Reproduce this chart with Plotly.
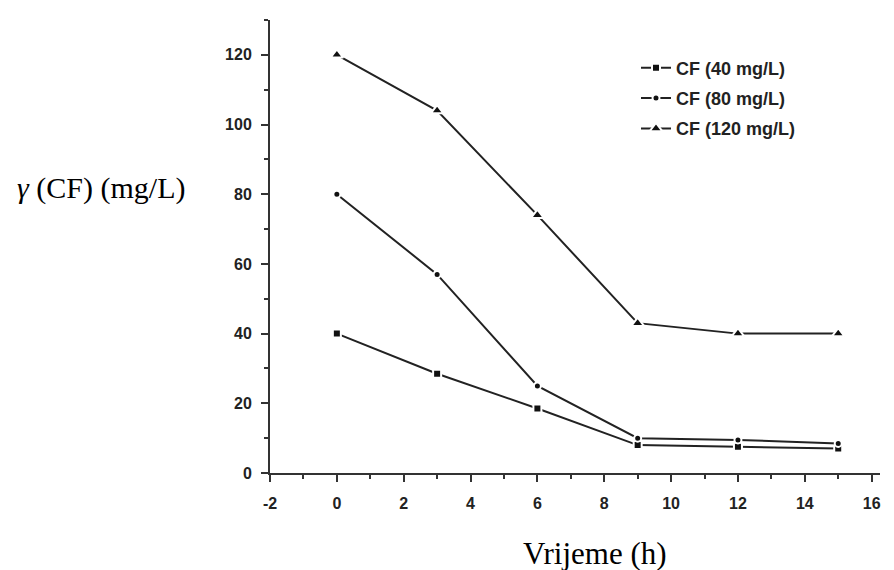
import plotly.graph_objects as go

# vrijeme (h)
t = [0, 3, 6, 9, 12, 15]
# koncentracija CF (mg/L)
cf40 = [40, 28.5, 18.5, 8, 7.5, 7]
cf80 = [80, 57, 25, 10, 9.5, 8.5]
cf120 = [120, 104, 74, 43, 40, 40]

names = ["CF (40 mg/L)", "CF (80 mg/L)", "CF (120 mg/L)"]
x_ticks = [-2, 0, 2, 4, 6, 8, 10, 12, 14, 16]
x_ticktext = ["-2", "0", "2", "4", "6", "8", "10", "12", "14", "16"]
tick_font = dict(family="Liberation Sans", size=16, color="#222", weight="bold")

fig = go.Figure()
series = [(cf40, "square", 8), (cf80, "circle", 7), (cf120, "triangle-up", 11)]
for (y, sym, sz), nm in zip(series, names):
    fig.add_trace(go.Scatter(x=t, y=y, name=nm, mode="lines+markers", legendgroup=nm,
                             line=dict(color="#222", width=2),
                             marker=dict(symbol=sym, size=sz, color="#111",
                                         line=dict(color="white", width=2))))

# page body has an 8px margin, so the figure is 8px smaller each way
fig.update_layout(
    width=886, height=562,
    margin=dict(l=262, r=14, t=12, b=97),
    plot_bgcolor="white", paper_bgcolor="white",
    showlegend=True,
    legend=dict(x=0.6, y=0.935, xanchor="left", yanchor="top",
                font=dict(family="Liberation Sans", size=18, color="#222", weight="bold"),
                bgcolor="rgba(0,0,0,0)", tracegroupgap=4),
)
fig.update_xaxes(range=[-2, 16.25], tickvals=x_ticks, ticktext=x_ticktext,
                 showgrid=False, zeroline=False,
                 showline=True, linecolor="#333", linewidth=2,
                 ticks="outside", ticklen=7, tickwidth=2, tickcolor="#333",
                 minor=dict(ticks="outside", dtick=1, ticklen=4, tickwidth=2, tickcolor="#333"),
                 tickfont=tick_font, ticklabelstandoff=8)
fig.update_yaxes(range=[0, 130], dtick=20, tick0=0, showgrid=False, zeroline=False,
                 showline=True, linecolor="#333", linewidth=2,
                 ticks="outside", ticklen=7, tickwidth=2, tickcolor="#333",
                 minor=dict(ticks="outside", dtick=10, ticklen=4, tickwidth=2, tickcolor="#333"),
                 tickfont=tick_font, ticklabelstandoff=6)

fig.add_annotation(text="<i>γ</i> (CF) (mg/L)", xref="paper", yref="paper",
                   x=-0.277, y=0.629, xanchor="center", yanchor="middle", showarrow=False,
                   font=dict(family="Liberation Serif", size=30, color="black"))
fig.add_annotation(text="Vrijeme (h)", xref="paper", yref="paper",
                   x=0.533, y=-0.177, xanchor="center", yanchor="middle", showarrow=False,
                   font=dict(family="Liberation Serif", size=31, color="black"))

fig.write_html("out.html")
